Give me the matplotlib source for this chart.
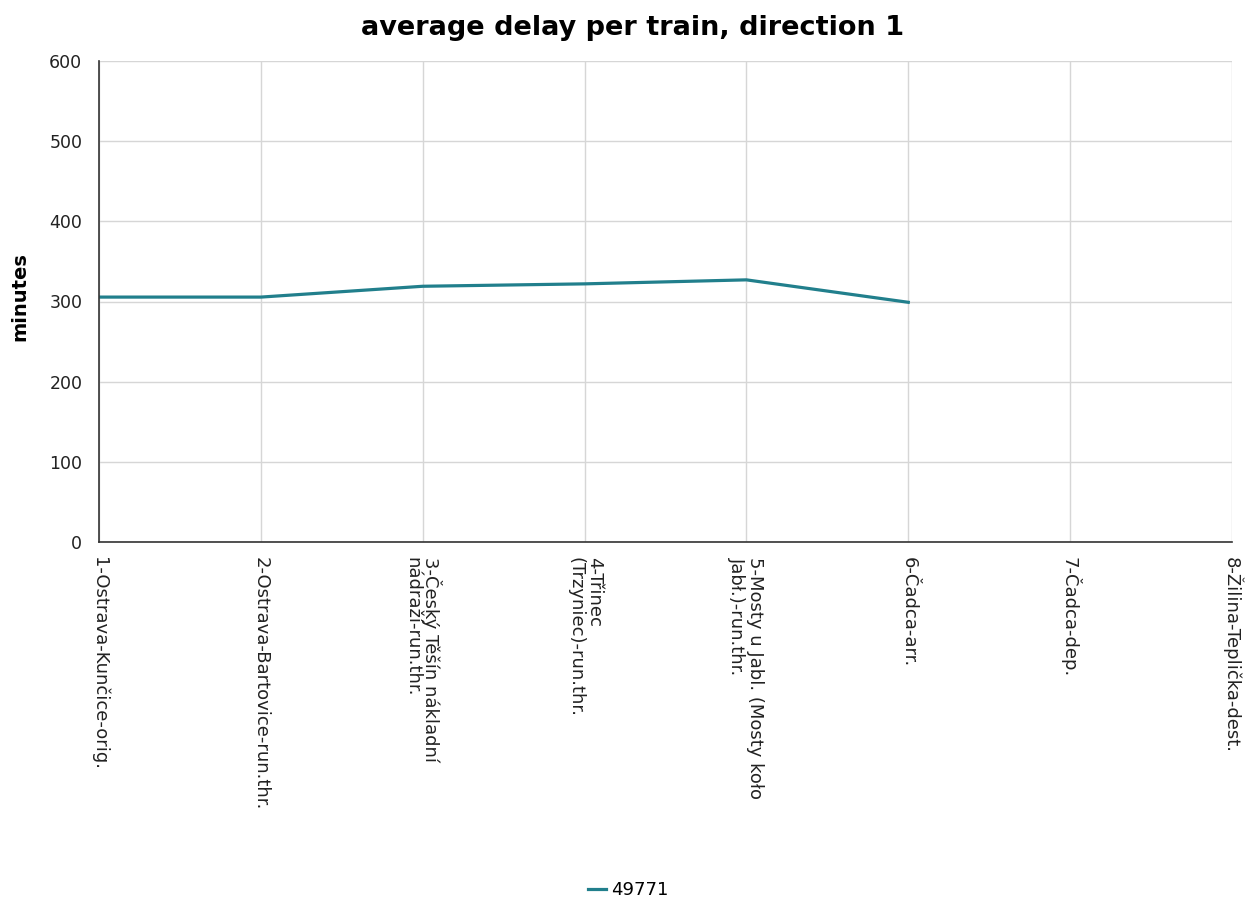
import numpy as np
import matplotlib.pyplot as plt

plt.rcParams["font.family"] = ["DejaVu Sans"]

stations = [
    "1-Ostrava-Kunčice-orig.",
    "2-Ostrava-Bartovice-run.thr.",
    "3-Český Těšín nákladní\nnádraží-run.thr.",
    "4-Třinec\n(Trzyniec)-run.thr.",
    "5-Mosty u Jabl. (Mosty koło\nJabł.)-run.thr.",
    "6-Čadca-arr.",
    "7-Čadca-dep.",
    "8-Žilina-Teplička-dest.",
]
train = "49771"
delay = [305.5, 305.5, 319, 322, 327, 299]

fig = plt.figure(figsize=(12.46, 9), dpi=100)
ax = fig.add_axes([99 / 1246, 1 - 542 / 900, (1232 - 99) / 1246, (542 - 61) / 900])

x = np.arange(len(stations))
ax.plot(x[:len(delay)], delay, color="#217f8c", lw=2.3, label=train)

ax.set_xlim(0, len(stations) - 1)
ax.set_ylim(0, 600)
ax.set_yticks(range(0, 601, 100))
ax.set_xticks(x)
ax.set_xticklabels(stations, rotation=270, ha="center", va="top",
                   multialignment="left", fontsize=13, linespacing=1.0)
ax.tick_params(axis="both", length=0, colors="#222222")
ax.tick_params(axis="x", pad=11)
ax.tick_params(axis="y", pad=12, labelsize=12.5)
ax.grid(True, color="#d6d6d6", lw=1)
ax.set_axisbelow(True)
for s in ["top", "right"]:
    ax.spines[s].set_visible(False)
for s in ["left", "bottom"]:
    ax.spines[s].set_color("#333333")
    ax.spines[s].set_linewidth(1.2)

fig.text(20 / 1246, 1 - 297 / 900, "minutes", rotation=90, fontsize=14,
         fontweight="bold", ha="center", va="center")
fig.text(633 / 1246, 1 - 28 / 900, "average delay per train, direction 1",
         fontsize=19.5, fontweight="bold", ha="center", va="center")

fig.legend(loc="center", bbox_to_anchor=(628 / 1246, 1 - 890 / 900), frameon=False,
           fontsize=13, handlelength=1.0, handletextpad=0.3)

fig.savefig("out.png", dpi=100)
